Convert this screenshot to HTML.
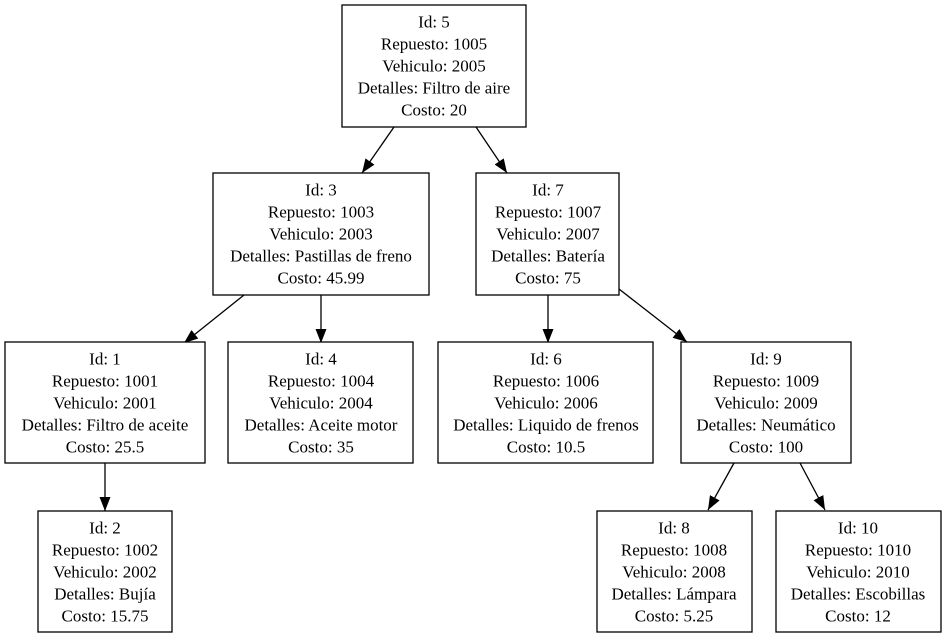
<!DOCTYPE html>
<html><head><meta charset="utf-8"><style>
html,body{margin:0;padding:0;background:#fff;}
svg{display:block;}
text{font-family:"Liberation Serif",serif;font-size:17px;text-anchor:middle;dominant-baseline:central;fill:#000;}
rect{fill:#fff;stroke:#000;stroke-width:1.3;}
line{stroke:#000;stroke-width:1.3;}
</style></head><body>
<svg width="946" height="637" viewBox="0 0 946 637" xmlns="http://www.w3.org/2000/svg">
<defs><marker id="a" markerWidth="14" markerHeight="11" refX="14" refY="5.5" orient="auto" markerUnits="userSpaceOnUse"><path d="M0,0 L14,5.5 L0,11 z" fill="#000"/></marker></defs>
<line x1="394" y1="127" x2="362" y2="173" marker-end="url(#a)"/>
<line x1="476" y1="127" x2="507" y2="173" marker-end="url(#a)"/>
<line x1="244" y1="295" x2="184" y2="343" marker-end="url(#a)"/>
<line x1="321" y1="295" x2="321" y2="343" marker-end="url(#a)"/>
<line x1="548" y1="295" x2="548" y2="343" marker-end="url(#a)"/>
<line x1="619" y1="289" x2="687" y2="342" marker-end="url(#a)"/>
<line x1="105" y1="463" x2="105" y2="511" marker-end="url(#a)"/>
<line x1="734" y1="463" x2="708" y2="510" marker-end="url(#a)"/>
<line x1="800" y1="463" x2="825" y2="510" marker-end="url(#a)"/>

<rect x="342" y="5" width="184" height="122"/>
<text x="434" y="22">Id: 5</text><text x="434" y="44">Repuesto: 1005</text><text x="434" y="66">Vehiculo: 2005</text><text x="434" y="88">Detalles: Filtro de aire</text><text x="434" y="110">Costo: 20</text>

<rect x="213" y="173" width="216" height="122"/>
<text x="321" y="190">Id: 3</text><text x="321" y="212">Repuesto: 1003</text><text x="321" y="234">Vehiculo: 2003</text><text x="321" y="256">Detalles: Pastillas de freno</text><text x="321" y="278">Costo: 45.99</text>

<rect x="476" y="173" width="143" height="122"/>
<text x="548" y="190">Id: 7</text><text x="548" y="212">Repuesto: 1007</text><text x="548" y="234">Vehiculo: 2007</text><text x="548" y="256">Detalles: Batería</text><text x="548" y="278">Costo: 75</text>

<rect x="5" y="342" width="200" height="121"/>
<text x="105" y="359">Id: 1</text><text x="105" y="381">Repuesto: 1001</text><text x="105" y="403">Vehiculo: 2001</text><text x="105" y="425">Detalles: Filtro de aceite</text><text x="105" y="447">Costo: 25.5</text>

<rect x="228" y="342" width="185" height="121"/>
<text x="321" y="359">Id: 4</text><text x="321" y="381">Repuesto: 1004</text><text x="321" y="403">Vehiculo: 2004</text><text x="321" y="425">Detalles: Aceite motor</text><text x="321" y="447">Costo: 35</text>

<rect x="438" y="342" width="215" height="121"/>
<text x="546" y="359">Id: 6</text><text x="546" y="381">Repuesto: 1006</text><text x="546" y="403">Vehiculo: 2006</text><text x="546" y="425">Detalles: Liquido de frenos</text><text x="546" y="447">Costo: 10.5</text>

<rect x="681" y="342" width="170" height="121"/>
<text x="766" y="359">Id: 9</text><text x="766" y="381">Repuesto: 1009</text><text x="766" y="403">Vehiculo: 2009</text><text x="766" y="425">Detalles: Neumático</text><text x="766" y="447">Costo: 100</text>

<rect x="38" y="511" width="134" height="121"/>
<text x="105" y="528">Id: 2</text><text x="105" y="550">Repuesto: 1002</text><text x="105" y="572">Vehiculo: 2002</text><text x="105" y="594">Detalles: Bujía</text><text x="105" y="616">Costo: 15.75</text>

<rect x="597" y="511" width="155" height="121"/>
<text x="674" y="528">Id: 8</text><text x="674" y="550">Repuesto: 1008</text><text x="674" y="572">Vehiculo: 2008</text><text x="674" y="594">Detalles: Lámpara</text><text x="674" y="616">Costo: 5.25</text>

<rect x="776" y="511" width="165" height="121"/>
<text x="858" y="528">Id: 10</text><text x="858" y="550">Repuesto: 1010</text><text x="858" y="572">Vehiculo: 2010</text><text x="858" y="594">Detalles: Escobillas</text><text x="858" y="616">Costo: 12</text>
</svg>
</body></html>
